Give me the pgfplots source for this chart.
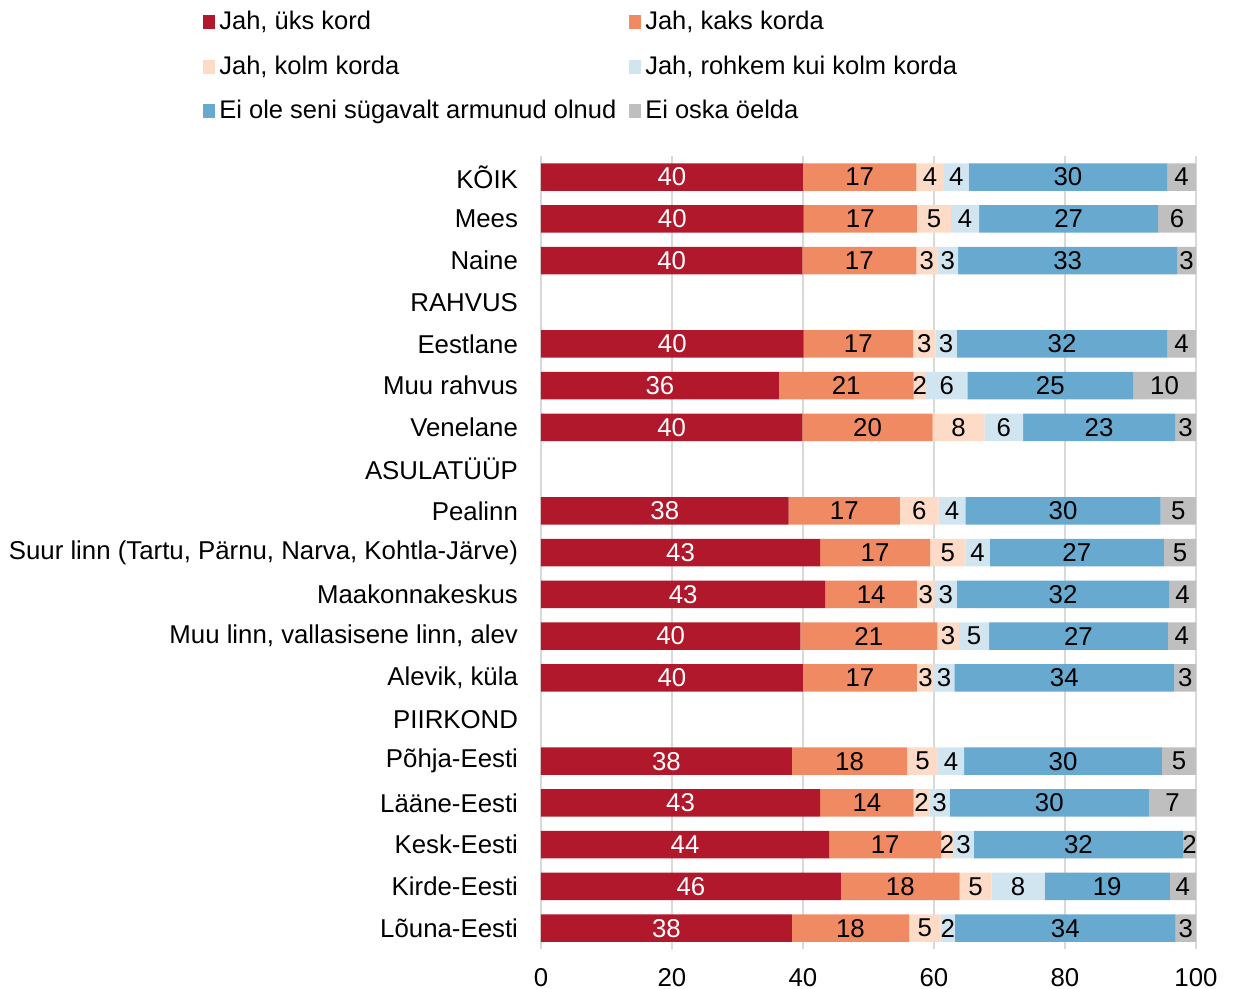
\documentclass[border=0pt]{standalone}
\usepackage{fontspec}
\setmainfont{Liberation Sans}
\usepackage{pgfplots}
\usepackage{pgfplotstable}
\pgfplotsset{compat=1.18}
\definecolor{cA}{HTML}{B2182B}
\definecolor{cB}{HTML}{EF8A62}
\definecolor{cC}{HTML}{FDDBC7}
\definecolor{cD}{HTML}{D1E5F0}
\definecolor{cE}{HTML}{67A9CF}
\definecolor{cF}{HTML}{BFBFBF}
\definecolor{gridc}{HTML}{D9D9D9}
\newcommand\cf{\fontsize{12.9}{15.4}\selectfont}
\newcommand\lf{\fontsize{12.75}{15.2}\selectfont}
\pgfplotstableread{
y a b c d e f
0 40.0 17.3 4.2 3.8 30.3 4.4
1 40.1 17.3 5.2 4.3 27.3 5.8
2 39.9 17.4 3.2 3.2 33.4 2.9
4 40.1 16.7 3.4 3.3 32.1 4.4
5 36.3 20.6 1.9 6.3 25.3 9.6
6 39.9 19.9 7.9 5.9 23.2 3.2
8 37.8 17.0 5.9 4.1 29.8 5.4
9 42.6 16.8 5.4 3.7 26.6 4.9
10 43.4 14.0 2.7 3.4 32.4 4.1
11 39.6 20.9 3.3 4.6 27.3 4.3
12 40.0 17.4 2.6 3.1 33.6 3.3
14 38.3 17.6 4.7 4.0 30.2 5.2
15 42.6 14.3 2.4 3.1 30.4 7.2
16 44.0 17.1 1.8 3.2 31.9 2.0
17 45.8 18.1 4.9 8.1 19.1 4.0
18 38.3 17.9 4.8 2.2 33.7 3.1
}\data
\begin{document}
\begin{tikzpicture}
\begin{axis}[
  width=327.5pt, height=396.4pt, scale only axis,
  xbar stacked, bar width=13.75pt,
  xmin=0, xmax=100, ymin=-0.5, ymax=18.5, y dir=reverse,
  axis line style={draw=none},
  major tick length=0pt,
  xmajorgrids, grid style={gridc, line width=0.8pt},
  xtick={0,20,...,100}, ytick={0,...,18},
  yticklabels={KÕIK,Mees,Naine,RAHVUS,Eestlane,Muu rahvus,Venelane,ASULATÜÜP,Pealinn,{Suur linn (Tartu, Pärnu, Narva, Kohtla-Järve)},Maakonnakeskus,{Muu linn, vallasisene linn, alev},{Alevik, küla},PIIRKOND,Põhja-Eesti,Lääne-Eesti,Kesk-Eesti,Kirde-Eesti,Lõuna-Eesti},
  tick label style={font=\cf},
  /pgf/number format/assume math mode=true,
  /pgf/number format/fixed,
  /pgf/number format/precision=0,
  yticklabel style={xshift=-8pt},
  xticklabel style={yshift=-6pt},
  nodes near coords, point meta=explicit,
  nodes near coords align=center,
  every node near coord/.append style={font=\cf, text=black},
  legend columns=2,
  legend style={draw=none, fill=none, at={(-0.5252,1.1932)}, anchor=north west, font=\lf,
    row sep=7.5pt, cells={anchor=west}, /tikz/every even column/.append style={column sep=4.5pt}},
  legend image code/.code={\fill[#1] (0pt,-3.5pt) rectangle (6pt,3.5pt);},
]
\addplot[fill=cA, draw=none, every node near coord/.append style={text=white}] table[x=a, y=y, meta=a] {\data};
\addplot[fill=cB, draw=none] table[x=b, y=y, meta=b] {\data};
\addplot[fill=cC, draw=none] table[x=c, y=y, meta=c] {\data};
\addplot[fill=cD, draw=none] table[x=d, y=y, meta=d] {\data};
\addplot[fill=cE, draw=none] table[x=e, y=y, meta=e] {\data};
\addplot[fill=cF, draw=none] table[x=f, y=y, meta=f] {\data};
\legend{{Jah, üks kord}, {Jah, kaks korda}, {Jah, kolm korda}, {Jah, rohkem kui kolm korda}, {Ei ole seni sügavalt armunud olnud}, {Ei oska öelda}}
\end{axis}
\pgfresetboundingbox
\path[use as bounding box] (-270.5pt,-20pt) rectangle (347pt,474.5pt);
\end{tikzpicture}
\end{document}
